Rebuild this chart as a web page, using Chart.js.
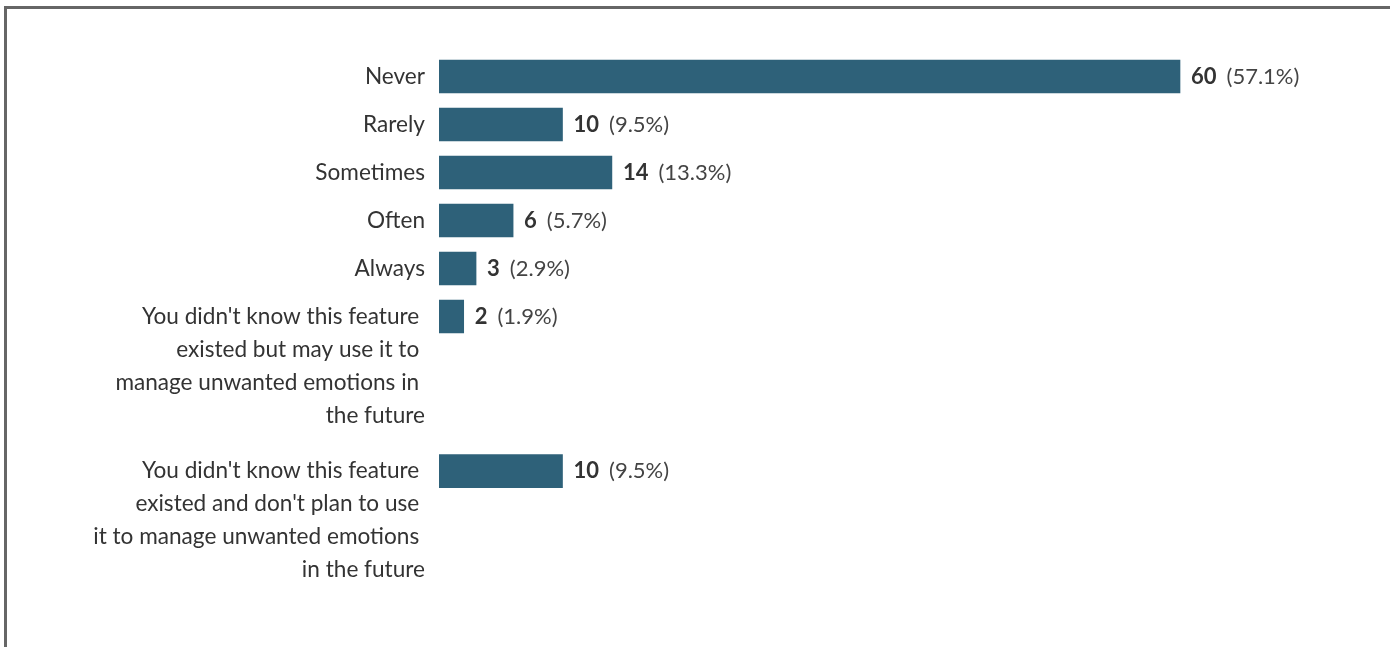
<!DOCTYPE html>
<html>
<head>
<meta charset="utf-8">
<script src="https://cdn.jsdelivr.net/npm/chart.js@4/dist/chart.umd.min.js"></script>
<style>
  html, body { margin: 0; padding: 0; background: #fff; overflow: hidden; }
  #frame {
    position: absolute; left: 4px; top: 6px; width: 1500px; height: 800px;
    border-top: 3px solid #666; border-left: 3px solid #666;
  }
  #wrap { position: absolute; left: 0; top: 0; width: 1390px; height: 647px; }
</style>
</head>
<body>
<div id="frame"></div>
<div id="wrap"><canvas id="chart"></canvas></div>
<script>
/* ---- data ---- */
const categories = [
  ['Never'],
  ['Rarely'],
  ['Sometimes'],
  ['Often'],
  ['Always'],
  ["You didn't know this feature ", 'existed but may use it to ', 'manage unwanted emotions in ', 'the future'],
  ["You didn't know this feature ", "existed and don't plan to use ", 'it to manage unwanted emotions ', 'in the future']
];
const counts = [60, 10, 14, 6, 3, 2, 10];
const totalResponses = 105;

/* ---- style ---- */
const barColor = '#2e6179';
const textColor = '#333';
const fontFamily = 'Lato, "Open Sans", sans-serif';
const fontSize = 22.6;
const valueFontSize = 22;
const lineHeight = 33;     // px between wrapped label lines
const rowPitch = 48;       // px for a single-line row
const extraLineSpan = 0.74; // extra row units per wrapped line

// row positions: multi-line labels push the next row down
const rowPos = [];
let cursor = 0;
categories.forEach(lines => {
  rowPos.push(cursor);
  cursor += 1 + (lines.length - 1) * extraLineSpan;
});
// tick sits lower so the first label line lines up with the bar
const tickPos = categories.map((lines, i) => rowPos[i] + (lines.length - 1) * lineHeight / 2 / rowPitch);

const yMin = -0.5, yMax = 11;

const valueLabels = {
  id: 'valueLabels',
  afterDatasetsDraw(chart) {
    const { ctx } = chart;
    const meta = chart.getDatasetMeta(0);
    ctx.save();
    ctx.textBaseline = 'middle';
    ctx.textAlign = 'left';
    meta.data.forEach((bar, i) => {
      const x = bar.x + 11;
      const num = String(counts[i]);
      ctx.fillStyle = textColor;
      ctx.font = `bold ${valueFontSize}px ${fontFamily}`;
      ctx.fillText(num, x, bar.y);
      const w = ctx.measureText(num).width;
      ctx.fillStyle = '#444';
      ctx.font = `${valueFontSize}px ${fontFamily}`;
      const pct = (counts[i] / totalResponses * 100).toFixed(1);
      ctx.fillText(`(${pct}%)`, x + w + 10, bar.y);
    });
    ctx.restore();
  }
};

new Chart(document.getElementById('chart'), {
  type: 'bar',
  data: {
    datasets: [{
      data: counts.map((v, i) => ({ x: v, y: rowPos[i] })),
      backgroundColor: barColor,
      borderWidth: 0,
      barThickness: 33
    }]
  },
  options: {
    indexAxis: 'y',
    responsive: true,
    maintainAspectRatio: false,
    animation: false,
    layout: { padding: { left: 0, right: 86.5, top: 52.5, bottom: 647 - 52.5 - (yMax - yMin) * rowPitch } },
    plugins: { legend: { display: false }, tooltip: { enabled: false } },
    scales: {
      x: { type: 'linear', min: 0, max: 70, display: false, offset: false },
      y: {
        type: 'linear',
        reverse: true,
        offset: false,
        min: yMin,
        max: yMax,
        bounds: 'data',
        border: { display: false },
        grid: { display: false, drawTicks: false, offset: false },
        afterFit: s => { s.width = 439; s.paddingTop = 0; s.paddingBottom = 0; },
        afterBuildTicks: s => { s.ticks = tickPos.map(v => ({ value: v })); },
        ticks: {
          autoSkip: false,
          padding: 14,
          color: textColor,
          font: { family: fontFamily, size: fontSize, lineHeight: lineHeight / fontSize },
          callback: (value, index) => categories[index]
        }
      }
    }
  },
  plugins: [valueLabels]
});
</script>
</body>
</html>
